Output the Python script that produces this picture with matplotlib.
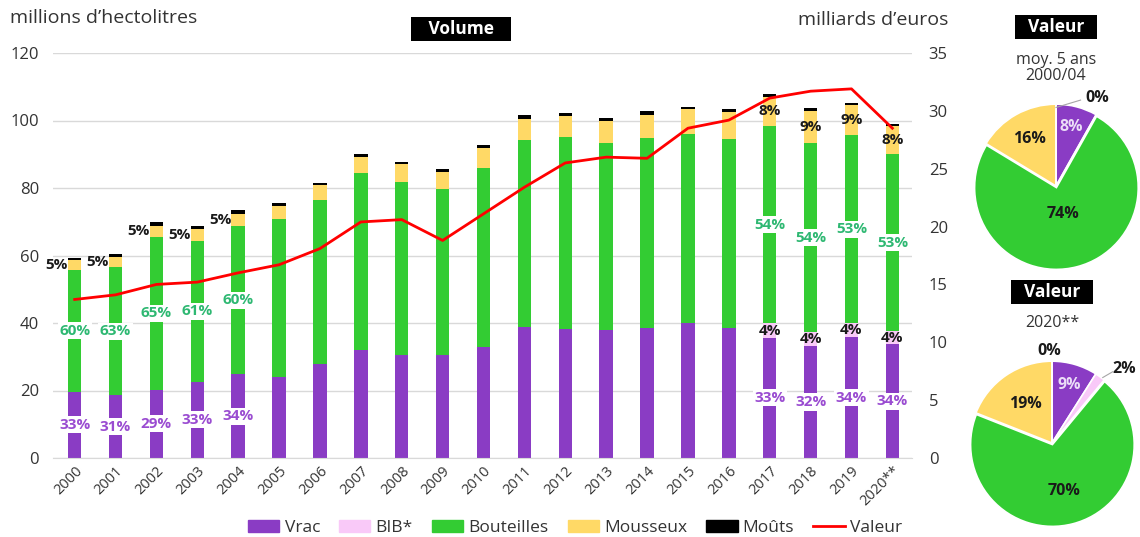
import numpy as np
import matplotlib.pyplot as plt
from matplotlib.patches import Patch
from matplotlib.lines import Line2D

plt.rcParams['font.family'] = ['Open Sans', 'DejaVu Sans']

# volumes in millions of hectolitres, value in billions of euros
years = [str(y) for y in range(2000, 2020)] + ["2020**"]
vrac = [19.7, 18.6, 20.2, 22.6, 24.8, 23.9, 27.9, 32.0, 30.4, 30.4, 33.0,
        38.7, 38.3, 37.9, 38.4, 39.9, 38.5, 35.6, 33.2, 35.8, 33.7]
bib = [0, 0, 0, 0, 0, 0, 0, 0, 0, 0, 0,
       0, 0, 0, 0, 0, 0, 4.3, 4.1, 4.2, 4.0]
bouteilles = [35.9, 38.0, 45.3, 41.7, 43.9, 47.0, 48.5, 52.4, 51.3, 49.4, 53.0,
              55.5, 56.7, 55.3, 56.3, 56.0, 55.9, 58.5, 56.0, 55.6, 52.3]
mousseux = [3.0, 3.0, 3.3, 3.5, 3.7, 3.8, 4.4, 4.7, 5.3, 4.9, 5.8,
            6.2, 6.3, 6.7, 7.0, 7.4, 8.0, 8.7, 9.4, 9.0, 8.3]
mouts = [0.8, 0.7, 1.1, 1.0, 1.1, 0.9, 0.7, 1.0, 0.8, 0.8, 0.8,
         1.3, 1.0, 0.8, 1.1, 0.8, 0.9, 0.8, 0.9, 0.5, 0.7]
valeur = [13.7, 14.1, 15.0, 15.2, 16.0, 16.7, 18.1, 20.4, 20.6, 18.8, 21.1,
          23.4, 25.5, 26.0, 25.9, 28.5, 29.2, 31.1, 31.7, 31.9, 28.5]

# years that carry share labels
labelled_years = ["2000", "2001", "2002", "2003", "2004", "2017", "2018", "2019", "2020**"]

# value shares (%) for the two pies
pie_segments = ["Vrac", "BIB*", "Bouteilles", "Mousseux", "Moûts"]
pie_moy_2000_04 = [8, 0, 74, 16, 0]
pie_2020 = [9, 2, 70, 19, 0]

colors = {
    "Vrac": "#8A3CC4",
    "BIB*": "#F9C9F8",
    "Bouteilles": "#33CC33",
    "Mousseux": "#FFD966",
    "Moûts": "#000000",
}
c_valeur = "#FF0000"
c_grid = "#D9D9D9"
c_text = "#333333"


def pct(part, total):
    return f"{int(100 * part / total + 0.5)}%"


fig = plt.figure(figsize=(11.4, 5.37), dpi=100)

# ------------------------------------------------------------------------------------------------------------------
#  stacked volume bars + value line
# ------------------------------------------------------------------------------------------------------------------
ax = fig.add_axes([53 / 1140, 79 / 537, 859 / 1140, 405 / 537])
x = np.arange(len(years))
bar_w = 0.33
series = [("Vrac", vrac), ("BIB*", bib), ("Bouteilles", bouteilles), ("Mousseux", mousseux), ("Moûts", mouts)]
bottom = np.zeros(len(years))
for name, vals in series:
    ax.bar(x, vals, width=bar_w, bottom=bottom, color=colors[name], linewidth=0)
    bottom = bottom + np.array(vals)

ax.set_xlim(-0.53, 20.48)
ax.set_ylim(0, 120)
ax.set_yticks(range(0, 121, 20))
ax.grid(axis="y", color=c_grid, lw=1)
ax.set_axisbelow(True)
for s in ["top", "right", "left"]:
    ax.spines[s].set_visible(False)
ax.spines["bottom"].set_color(c_grid)
ax.tick_params(axis="y", length=0, pad=10, labelsize=12, labelcolor=c_text)
ax.set_xticks(x)
ax.set_xticklabels(years, rotation=45, ha="right", rotation_mode="anchor")
ax.tick_params(axis="x", length=0, pad=4, labelsize=10.5, labelcolor=c_text)

# share labels inside the bars
lbl = dict(fontsize=11, fontweight="bold")
for i, yr in enumerate(years):
    if yr not in labelled_years:
        continue
    total = vrac[i] + bib[i] + bouteilles[i] + mousseux[i] + mouts[i]
    ax.text(i, vrac[i] / 2, pct(vrac[i], total), ha="center", va="center", color="#9A4CD1",
            bbox=dict(boxstyle="square,pad=0.1", fc="white", ec="none"), **lbl)
    if bib[i] > 0:
        ax.text(i, vrac[i] + bib[i] / 2, pct(bib[i], total), ha="center", va="center", color="#1A1A1A", **lbl)
    base = vrac[i] + bib[i]
    ax.text(i, base + bouteilles[i] / 2, pct(bouteilles[i], total), ha="center", va="center", color="#2EB872",
            bbox=dict(boxstyle="square,pad=0.1", fc="white", ec="none"), **lbl)
    base += bouteilles[i]
    if i < 5:
        ax.text(i - 0.17, base + mousseux[i] / 2, pct(mousseux[i], total), ha="right", va="center",
                color="#1A1A1A", **lbl)
    else:
        ax.text(i, base + mousseux[i] / 2, pct(mousseux[i], total), ha="center", va="center",
                color="#1A1A1A", **lbl)

ax2 = ax.twinx()
ax2.plot(x, valeur, color=c_valeur, lw=2)
ax2.set_ylim(0, 35)
ax2.set_yticks(range(0, 36, 5))
for s in ["top", "right", "left", "bottom"]:
    ax2.spines[s].set_visible(False)
ax2.tick_params(axis="y", length=0, pad=12, labelsize=12, labelcolor=c_text)

fig.text(10 / 1140, 1 - 18 / 537, "millions d’hectolitres", ha="left", va="center", fontsize=14, color=c_text)
fig.text(948 / 1140, 1 - 20 / 537, "milliards d’euros", ha="right", va="center", fontsize=14, color=c_text)
fig.text(461 / 1140, 1 - 29 / 537, "   Volume   ", ha="center", va="center", fontsize=12.5, fontweight="bold",
         color="white", bbox=dict(boxstyle="square,pad=0.2", fc="black", ec="none"))

# legend
handles = [Patch(color=colors[n]) for n in pie_segments] + [Line2D([0], [0], color=c_valeur, lw=2)]
labels = pie_segments + ["Valeur"]
fig.legend(handles, labels, loc="center", bbox_to_anchor=(575 / 1140, 1 - 528 / 537), ncol=6, frameon=False,
           fontsize=12.5, handlelength=1.8, handleheight=0.7, columnspacing=1.1, handletextpad=0.3,
           labelcolor=c_text)


# ------------------------------------------------------------------------------------------------------------------
#  value share pies
# ------------------------------------------------------------------------------------------------------------------
def draw_pie(cx, cy, values, inner_r, outside, subtitle, title_y, subtitle_y):
    pax = fig.add_axes([(cx - 90) / 1140, (537 - cy - 90) / 537, 180 / 1140, 180 / 537])
    wedges, _ = pax.pie(values, colors=[colors[n] for n in pie_segments], startangle=90, counterclock=False,
                        radius=1, explode=[0, 0, 0.02, 0, 0],
                        wedgeprops=dict(edgecolor="white", linewidth=1.2))
    pax.set_xlim(-1.1, 1.1)
    pax.set_ylim(-1.1, 1.1)
    pax.set_aspect("equal")
    pax.axis("off")
    label_colors = ["#EBDDF7", "#1A1A1A", "#1A1A1A", "#1A1A1A", "#1A1A1A"]
    for w, v, r, lc in zip(wedges, values, inner_r, label_colors):
        if r is None:
            continue
        ang = np.deg2rad((w.theta1 + w.theta2) / 2)
        pax.text(r * np.cos(ang), r * np.sin(ang), f"{v}%", ha="center", va="center", fontsize=11.5,
                 fontweight="bold", color=lc)
    for idx, (tx, ty, line) in outside.items():
        if line is not None:
            pax.plot(line[0], line[1], color="#A6A6A6", lw=0.8)
        pax.text(tx, ty, f"{values[idx]}%", ha="center", va="center", fontsize=11.5, fontweight="bold",
                 color="#1A1A1A")
    fig.text(cx / 1140, 1 - title_y / 537, "  Valeur  ", ha="center", va="center", fontsize=12.5,
             fontweight="bold", color="white", bbox=dict(boxstyle="square,pad=0.2", fc="black", ec="none"))
    fig.text(cx / 1140, 1 - subtitle_y / 537, subtitle, ha="center", va="center", fontsize=11.5,
             color=c_text, linespacing=1.0)


draw_pie(1056, 186, pie_moy_2000_04, [0.74, None, 0.35, 0.66, None],
         {4: (0.5, 1.08, ([0.0, 0.3], [0.96, 1.05]))},
         "moy. 5 ans\n2000/04", 27, 68)
draw_pie(1052, 443, pie_2020, [0.74, None, 0.6, 0.58, None],
         {4: (-0.03, 1.12, None), 1: (0.88, 0.9, ([0.62, 0.74], [0.8, 0.87]))},
         "2020**", 292, 323)

fig.savefig("out.png", dpi=100)
